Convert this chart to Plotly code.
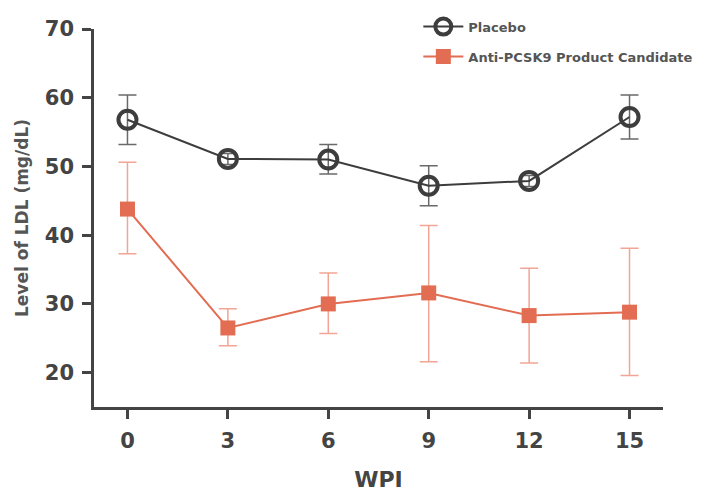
import plotly.graph_objects as go

wpi = [0, 3, 6, 9, 12, 15]
x_ticks = [0, 3, 6, 9, 12, 15]
y_ticks = [20, 30, 40, 50, 60, 70]

placebo = [56.8, 51.1, 51.0, 47.2, 47.9, 57.2]
placebo_up = [3.6, 0.8, 2.2, 2.9, 0.8, 3.2]
placebo_down = [3.6, 0.8, 2.1, 2.9, 0.8, 3.2]

anti = [43.8, 26.5, 30.0, 31.6, 28.3, 28.8]
anti_up = [6.8, 2.8, 4.5, 9.8, 6.9, 9.3]
anti_down = [6.5, 2.6, 4.3, 10.0, 6.9, 9.2]

dark = "#3d3d3d"
orange = "#e26d52"
FONT = "DejaVu Sans"

fig = go.Figure()
fig.add_trace(go.Scatter(
    x=wpi, y=placebo, name="Placebo", mode="lines+markers", legendgroup="a",
    line=dict(color=dark, width=2),
    marker=dict(symbol="circle-open", size=18, color=dark, line=dict(width=4, color=dark)),
    error_y=dict(type="data", symmetric=False, array=placebo_up, arrayminus=placebo_down,
                 color="#6a6a6a", thickness=1.5, width=9),
))
fig.add_trace(go.Scatter(
    x=wpi, y=anti, name="Anti-PCSK9 Product Candidate", mode="lines+markers", legendgroup="b",
    line=dict(color=orange, width=2),
    marker=dict(symbol="square", size=15, color=orange),
    error_y=dict(type="data", symmetric=False, array=anti_up, arrayminus=anti_down,
                 color="#f2a595", thickness=1.5, width=9),
))

tick_font = dict(family=FONT, size=21, color="#444444", weight="bold")
fig.update_layout(
    width=693, height=484,
    margin=dict(l=86, r=38, t=21, b=85, autoexpand=False),
    paper_bgcolor="white", plot_bgcolor="white",
    showlegend=True,
    legend=dict(x=0.57, y=1.046, xanchor="left", yanchor="top",
                font=dict(family=FONT, size=13, color="#555555", weight="bold"),
                bgcolor="rgba(0,0,0,0)", traceorder="grouped", tracegroupgap=10, itemwidth=40),
    xaxis=dict(range=[-1, 16], tickvals=x_ticks, ticktext=[str(v) for v in x_ticks],
               showline=True, linecolor="#444444", linewidth=2.5, showgrid=False, zeroline=False,
               ticks="outside", ticklen=9, tickwidth=2.5, tickcolor="#444444",
               tickfont=tick_font, automargin=False, ticklabelstandoff=4,
               title=dict(text="WPI", font=dict(family=FONT, size=22, color="#444444", weight="bold"),
                          standoff=24)),
    yaxis=dict(range=[15, 70], tickvals=y_ticks, ticktext=[str(v) for v in y_ticks],
               showline=True, linecolor="#444444", linewidth=2.5, showgrid=False, zeroline=False,
               ticks="outside", ticklen=9, tickwidth=2.5, tickcolor="#444444",
               tickfont=tick_font, automargin=False, ticklabelstandoff=4,
               title=dict(text="Level of LDL (mg/dL)",
                          font=dict(family=FONT, size=17, color="#555555", weight="bold"),
                          standoff=12)),
)

fig.write_html("out.html")
